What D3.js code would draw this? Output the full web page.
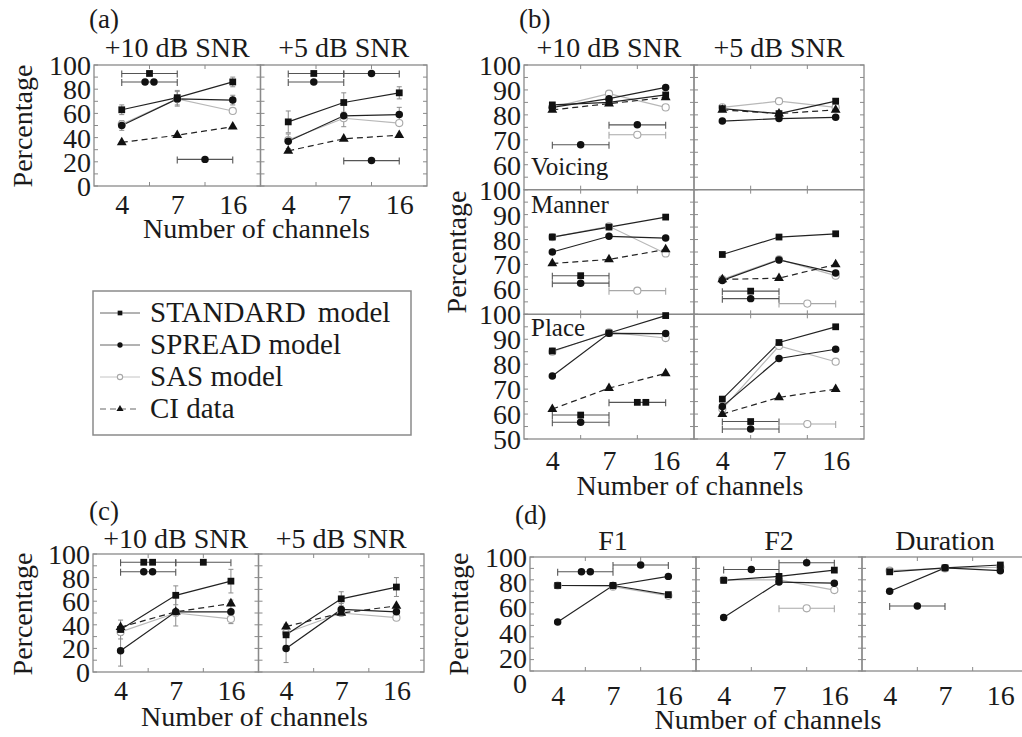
<!DOCTYPE html>
<html><head><meta charset="utf-8">
<script src="https://cdn.jsdelivr.net/npm/d3@7"></script>
<style>
body{margin:0;background:#fff;}
svg{display:block;}
svg text{font-family:"Liberation Serif","Times New Roman",serif !important;}
</style></head><body>
<svg id="fig" width="1022" height="737"></svg>
<script>
const channels = ["4", "7", "16"];
const legendLabels = ["STANDARD model", "SPREAD model", "SAS model", "CI data"];

// (a) overall identification
const aStandard10 = [63, 73, 86];
const aSpread10   = [50, 72, 71];
const aSas10      = [51, 72, 62];
const aCi10       = [36, 42, 49];
const aStandard5  = [53, 69, 77];
const aSpread5    = [37, 58, 59];
const aSas5       = [38, 56, 52];
const aCi5        = [29, 39, 42];
const aErrStandard10 = [4, 6, 4];
const aErrSpread10   = [4, 6, 4];
const aErrStandard5  = [9, 8, 5];
const aErrSpread5    = [6, 9, 6];

// (b) feature transmission: voicing, manner, place
const vStandard10 = [84, 85, 88];
const vSpread10   = [83, 86.5, 91];
const vSas10      = [83, 88.5, 83];
const vCi10       = [82, 84.5, 87];
const vStandard5  = [82.5, 80.5, 85.5];
const vSpread5    = [77.5, 78.5, 79];
const vSas5       = [83, 85.5, 83];
const vCi5        = [82, 80.5, 82];
const mStandard10 = [81, 85, 89];
const mSpread10   = [75, 81.3, 80.6];
const mSas10      = [81, 85.3, 74.4];
const mCi10       = [70.4, 72, 76];
const mStandard5  = [74, 81, 82.3];
const mSpread5    = [63.6, 71.8, 66.6];
const mSas5       = [64, 72, 65.5];
const mCi5        = [64, 64.5, 70];
const pStandard10 = [85.3, 92.5, 99.5];
const pSpread10   = [75.3, 92.4, 92.3];
const pSas10      = [85, 92.8, 90.5];
const pCi10       = [62, 70.4, 76.3];
const pStandard5  = [66, 88.7, 95];
const pSpread5    = [63, 82.3, 86];
const pSas5       = [62, 87.3, 81];
const pCi5        = [60, 66.7, 70];

// (c) vowel identification
const cStandard10 = [36, 65, 77];
const cSpread10   = [18, 51, 51];
const cSas10      = [34, 50, 45];
const cCi10       = [38, 51, 58];
const cStandard5  = [31.5, 62, 72];
const cSpread5    = [20, 53, 51];
const cSas5       = [33, 50, 46];
const cCi5        = [38.5, 50, 56];
const cErrStandard10 = [8, 8, 10];
const cErrSpread10   = [13, 12, 10];
const cErrStandard5  = [9, 6, 8];
const cErrSpread5    = [12, 5, 6];

// (d) vowel features
const dStandardF1  = [75, 75, 67];
const dSpreadF1    = [43, 75, 83];
const dSasF1       = [75, 74, 66];
const dStandardF2  = [79.5, 83, 88.5];
const dSpreadF2    = [47, 78, 77];
const dSasF2       = [80, 80, 71];
const dStandardDur = [87, 90.5, 93];
const dSpreadDur   = [70, 90.5, 88];
const dSasDur      = [88, 90, 91];

// significance brackets between channel conditions
const aSig10 = [
  {from: "4", to: "7", value: 93, kind: "std", at: [0.5]},
  {from: "4", to: "7", value: 86, kind: "spr", at: [0.42, 0.58]},
  {from: "7", to: "16", value: 22, kind: "spr", at: [0.5]}
];
const aSig5 = [
  {from: "4", to: "7", value: 93, kind: "std", at: [0.46]},
  {from: "7", to: "16", value: 93, kind: "spr", at: [0.5]},
  {from: "4", to: "7", value: 86, kind: "spr", at: [0.46]},
  {from: "7", to: "16", value: 21, kind: "spr", at: [0.5]}
];
const vSig10 = [
  {from: "4", to: "7", value: 68, kind: "spr", at: [0.5]},
  {from: "7", to: "16", value: 76, kind: "spr", at: [0.5]},
  {from: "7", to: "16", value: 72, kind: "sas", at: [0.5]}
];
const mSig10 = [
  {from: "4", to: "7", value: 65.5, kind: "std", at: [0.5]},
  {from: "4", to: "7", value: 62.5, kind: "spr", at: [0.5]},
  {from: "7", to: "16", value: 59.5, kind: "sas", at: [0.5]}
];
const mSig5 = [
  {from: "4", to: "7", value: 59.3, kind: "std", at: [0.5]},
  {from: "4", to: "7", value: 56.3, kind: "spr", at: [0.5]},
  {from: "7", to: "16", value: 54.3, kind: "sas", at: [0.5]}
];
const pSig10 = [
  {from: "4", to: "7", value: 59.6, kind: "std", at: [0.5]},
  {from: "4", to: "7", value: 56.7, kind: "spr", at: [0.5]},
  {from: "7", to: "16", value: 64.7, kind: "std", at: [0.5, 0.65]}
];
const pSig5 = [
  {from: "4", to: "7", value: 57, kind: "std", at: [0.5]},
  {from: "4", to: "7", value: 54, kind: "spr", at: [0.5]},
  {from: "7", to: "16", value: 56, kind: "sas", at: [0.5]}
];
const cSig10 = [
  {from: "4", to: "7", value: 93, kind: "std", at: [0.42, 0.58]},
  {from: "7", to: "16", value: 93, kind: "std", at: [0.5]},
  {from: "4", to: "7", value: 85, kind: "spr", at: [0.42, 0.58]}
];
const dSigF1 = [
  {from: "4", to: "7", value: 87, kind: "spr", at: [0.43, 0.59]},
  {from: "7", to: "16", value: 93, kind: "spr", at: [0.5]}
];
const dSigF2 = [
  {from: "4", to: "7", value: 89, kind: "spr", at: [0.5]},
  {from: "7", to: "16", value: 95, kind: "spr", at: [0.5]},
  {from: "7", to: "16", value: 55, kind: "sas", at: [0.5]}
];
const dSigDur = [
  {from: "4", to: "7", value: 57, kind: "spr", at: [0.5]}
];

// ---------------------------------------------------------------------------
const FS = 28;
const SERIF = "'Liberation Serif', 'Times New Roman', serif";
const frameColor = "#8a8a8a";
const svg = d3.select("#fig");

const style = {
  std: {stroke: "#222", dash: null, symbol: d3.symbolSquare, size: 46, fill: "#111", edge: "none"},
  spr: {stroke: "#222", dash: null, symbol: d3.symbolCircle, size: 44, fill: "#111", edge: "none"},
  sas: {stroke: "#b8b8b8", dash: null, symbol: d3.symbolCircle, size: 40, fill: "#fff", edge: "#a8a8a8"},
  ci:  {stroke: "#222", dash: "6,4", symbol: d3.symbolTriangle, size: 42, fill: "#111", edge: "none"}
};

function drawMarker(g, kind, cx, cy, size) {
  const s = style[kind];
  g.append("path")
    .attr("d", d3.symbol(s.symbol, size || s.size)())
    .attr("transform", `translate(${cx},${cy})`)
    .attr("fill", s.fill)
    .attr("stroke", s.edge)
    .attr("stroke-width", 1.1);
}

function text(g, str, x, y, opts = {}) {
  const t = g.append("text").attr("x", x).attr("y", y).text(str)
    .style("font-family", SERIF)
    .attr("font-size", opts.size || FS)
    .attr("fill", "#1a1a1a")
    .attr("text-anchor", opts.anchor || "start");
  if (opts.rotate) t.attr("transform", `rotate(-90,${x},${y})`);
  return t;
}

// one framed cell: three channel conditions on x, percentage on y
function cell(o) {
  const g = svg.append("g");
  const x = d3.scalePoint().domain(channels).range([o.x0, o.x1]).padding(0.5);
  const y = d3.scaleLinear().domain(o.domain).range([o.y1, o.y0]);

  g.append("rect")
    .attr("x", o.x0).attr("y", o.y0)
    .attr("width", o.x1 - o.x0).attr("height", o.y1 - o.y0)
    .attr("fill", "none").attr("stroke", frameColor).attr("stroke-width", 1.3);

  // inward ticks
  const tickVals = d3.range(o.domain[0], o.domain[1] + 1e-6, o.tickStep);
  tickVals.forEach(v => {
    g.append("line").attr("x1", o.x0).attr("x2", o.x0 + 4).attr("y1", y(v)).attr("y2", y(v))
      .attr("stroke", frameColor).attr("stroke-width", 1);
    g.append("line").attr("x1", o.x1 - 4).attr("x2", o.x1).attr("y1", y(v)).attr("y2", y(v))
      .attr("stroke", frameColor).attr("stroke-width", 1);
  });
  const mids = [(x("4") + x("7")) / 2, (x("7") + x("16")) / 2];
  mids.forEach(m => {
    g.append("line").attr("x1", m).attr("x2", m).attr("y1", o.y1).attr("y2", o.y1 - 4)
      .attr("stroke", frameColor).attr("stroke-width", 1);
    g.append("line").attr("x1", m).attr("x2", m).attr("y1", o.y0).attr("y2", o.y0 + 4)
      .attr("stroke", frameColor).attr("stroke-width", 1);
  });

  // error bars
  (o.errors || []).forEach(([vals, errs]) => {
    vals.forEach((v, i) => {
      const cx = x(channels[i]);
      const e = errs[i];
      g.append("line").attr("x1", cx).attr("x2", cx).attr("y1", y(v - e)).attr("y2", y(v + e))
        .attr("stroke", "#8c8c8c").attr("stroke-width", 1);
      [v - e, v + e].forEach(w => g.append("line")
        .attr("x1", cx - 2.5).attr("x2", cx + 2.5).attr("y1", y(w)).attr("y2", y(w))
        .attr("stroke", "#8c8c8c").attr("stroke-width", 1));
    });
  });

  // series lines
  const line = d3.line().x((d, i) => x(channels[i])).y(d => y(d));
  const order = ["sas", "ci", "spr", "std"];
  order.forEach(k => {
    if (!o.series[k]) return;
    g.append("path").attr("d", line(o.series[k]))
      .attr("fill", "none").attr("stroke", style[k].stroke).attr("stroke-width", 1.2)
      .attr("stroke-dasharray", style[k].dash);
  });

  // significance brackets
  (o.sig || []).forEach(b => {
    const xa = x(b.from), xb = x(b.to), yy = y(b.value);
    const col = b.kind === "sas" ? "#a8a8a8" : "#555";
    g.append("line").attr("x1", xa).attr("x2", xb).attr("y1", yy).attr("y2", yy)
      .attr("stroke", col).attr("stroke-width", 1.1);
    [xa, xb].forEach(xe => g.append("line").attr("x1", xe).attr("x2", xe)
      .attr("y1", yy - 3).attr("y2", yy + 4).attr("stroke", col).attr("stroke-width", 1.1));
    b.at.forEach(t => drawMarker(g, b.kind, xa + t * (xb - xa), yy));
  });

  // markers
  order.forEach(k => {
    if (!o.series[k]) return;
    o.series[k].forEach((v, i) => drawMarker(g, k, x(channels[i]), y(v)));
  });

  // y labels
  if (o.yLabels) {
    const ly = o.labelScale || y;
    const ax = d3.axisLeft(ly).tickValues(o.yLabels).tickSize(0).tickPadding(0).tickFormat(d3.format("d"));
    const ga = svg.append("g").attr("transform", `translate(${o.x0 - 3},0)`).call(ax);
    ga.attr("font-family", SERIF).attr("font-size", FS);
    ga.select(".domain").remove();
    ga.selectAll("text").style("font-family", SERIF).attr("font-size", FS)
      .attr("fill", "#1a1a1a").attr("dy", "0.34em");
  }
  // x labels
  if (o.xBaseline) {
    const ax = d3.axisBottom(x).tickSize(0);
    const ga = svg.append("g").attr("transform", `translate(0,${o.y1})`).call(ax);
    ga.attr("font-family", SERIF).attr("font-size", FS);
    ga.select(".domain").remove();
    ga.selectAll("text").style("font-family", SERIF).attr("font-size", FS)
      .attr("fill", "#1a1a1a").attr("y", o.xBaseline - o.y1).attr("dy", 0);
  }
  return {x, y};
}

// ---------------- panel (a)
{
  const x0 = 94, x1 = 427, xm = (x0 + x1) / 2, y0 = 65, y1 = 186;
  cell({x0, x1: xm, y0, y1, domain: [0, 100], tickStep: 10,
    series: {std: aStandard10, spr: aSpread10, sas: aSas10, ci: aCi10},
    errors: [[aStandard10, aErrStandard10], [aSpread10, aErrSpread10]],
    sig: aSig10, yLabels: [0, 20, 40, 60, 80, 100], xBaseline: 214});
  cell({x0: xm, x1, y0, y1, domain: [0, 100], tickStep: 10,
    series: {std: aStandard5, spr: aSpread5, sas: aSas5, ci: aCi5},
    errors: [[aStandard5, aErrStandard5], [aSpread5, aErrSpread5]],
    sig: aSig5, xBaseline: 214});
  text(svg, "(a)", 89, 28, {size: 27});
  text(svg, "+10 dB SNR", (x0 + xm) / 2, 57, {anchor: "middle"});
  text(svg, "+5 dB SNR", (xm + x1) / 2, 57, {anchor: "middle"});
  text(svg, "Number of channels", (x0 + x1) / 2 - 4, 238, {anchor: "middle"});
  text(svg, "Percentage", 32, 126, {anchor: "middle", rotate: true});
}

// ---------------- legend
{
  const g = svg.append("g");
  g.append("rect").attr("x", 93).attr("y", 291).attr("width", 318).attr("height", 144)
    .attr("fill", "none").attr("stroke", "#8a8a8a").attr("stroke-width", 1.5);
  const kinds = ["std", "spr", "sas", "ci"];
  const ly = d3.scalePoint().domain(legendLabels).range([313, 409]);
  legendLabels.forEach((lab, i) => {
    const k = kinds[i], yy = ly(lab);
    g.append("line").attr("x1", 100).attr("x2", 140).attr("y1", yy).attr("y2", yy)
      .attr("stroke", k === "sas" ? "#c4c4c4" : "#666").attr("stroke-width", 1)
      .attr("stroke-dasharray", style[k].dash);
    drawMarker(g, k, 120, yy, 22);
    text(g, lab, 150, yy + 9, {size: 29}).attr("word-spacing", i === 0 ? 5 : 0);
  });
}

// ---------------- panel (b)
{
  const x0 = 524, x1 = 864, xm = (x0 + x1) / 2, top = 65, bottom = 439;
  const h = (bottom - top) / 3;
  const rows = [
    {s10: {std: vStandard10, spr: vSpread10, sas: vSas10, ci: vCi10},
     s5: {std: vStandard5, spr: vSpread5, sas: vSas5, ci: vCi5}, g10: vSig10, g5: [],
     labels: [60, 70, 80, 90, 100]},
    {s10: {std: mStandard10, spr: mSpread10, sas: mSas10, ci: mCi10},
     s5: {std: mStandard5, spr: mSpread5, sas: mSas5, ci: mCi5}, g10: mSig10, g5: mSig5,
     labels: [60, 70, 80, 90, 100]},
    {s10: {std: pStandard10, spr: pSpread10, sas: pSas10, ci: pCi10},
     s5: {std: pStandard5, spr: pSpread5, sas: pSas5, ci: pCi5}, g10: pSig10, g5: pSig5,
     labels: [50, 60, 70, 80, 90, 100]}
  ];
  rows.forEach((r, i) => {
    const y0 = top + i * h, y1 = top + (i + 1) * h;
    const last = i === 2;
    cell({x0, x1: xm, y0, y1, domain: [50, 100], tickStep: 5, series: r.s10, sig: r.g10,
      yLabels: r.labels, xBaseline: last ? 470 : null});
    cell({x0: xm, x1, y0, y1, domain: [50, 100], tickStep: 5, series: r.s5, sig: r.g5,
      xBaseline: last ? 470 : null});
  });
  text(svg, "Voicing", 531, top + h - 15, {size: 25});
  text(svg, "Manner", 531, top + h + 23, {size: 25});
  text(svg, "Place", 531, top + 2 * h + 22, {size: 25});
  text(svg, "(b)", 519, 28, {size: 27});
  text(svg, "+10 dB SNR", (x0 + xm) / 2, 57, {anchor: "middle"});
  text(svg, "+5 dB SNR", (xm + x1) / 2, 57, {anchor: "middle"});
  text(svg, "Number of channels", (x0 + x1) / 2 - 4, 495, {anchor: "middle"});
  text(svg, "Percentage", 466, 252, {anchor: "middle", rotate: true});
}

// ---------------- panel (c)
{
  const x0 = 93, x1 = 424, xm = (x0 + x1) / 2, y0 = 554, y1 = 672;
  cell({x0, x1: xm, y0, y1, domain: [0, 100], tickStep: 10,
    series: {std: cStandard10, spr: cSpread10, sas: cSas10, ci: cCi10},
    errors: [[cStandard10, cErrStandard10], [cSpread10, cErrSpread10]],
    sig: cSig10, yLabels: [0, 20, 40, 60, 80, 100], xBaseline: 700});
  cell({x0: xm, x1, y0, y1, domain: [0, 100], tickStep: 10,
    series: {std: cStandard5, spr: cSpread5, sas: cSas5, ci: cCi5},
    errors: [[cStandard5, cErrStandard5], [cSpread5, cErrSpread5]],
    xBaseline: 700});
  text(svg, "(c)", 89, 520, {size: 27});
  text(svg, "+10 dB SNR", (x0 + xm) / 2, 548, {anchor: "middle"});
  text(svg, "+5 dB SNR", (xm + x1) / 2, 548, {anchor: "middle"});
  text(svg, "Number of channels", (x0 + x1) / 2 - 4, 726, {anchor: "middle"});
  text(svg, "Percentage", 32, 614, {anchor: "middle", rotate: true});
}

// ---------------- panel (d)
{
  const y0 = 557, y1 = 671, w = 166, x0 = 530;
  const labelScale = d3.scaleLinear().domain([0, 100]).range([683, 557]);
  const cols = [
    {title: "F1", series: {std: dStandardF1, spr: dSpreadF1, sas: dSasF1}, sig: dSigF1},
    {title: "F2", series: {std: dStandardF2, spr: dSpreadF2, sas: dSasF2}, sig: dSigF2},
    {title: "Duration", series: {std: dStandardDur, spr: dSpreadDur, sas: dSasDur}, sig: dSigDur}
  ];
  cols.forEach((c, i) => {
    const a = x0 + i * w, b = a + w;
    cell({x0: a, x1: b, y0, y1, domain: [0, 100], tickStep: 10, series: c.series, sig: c.sig,
      yLabels: i === 0 ? [0, 20, 40, 60, 80, 100] : null, labelScale, xBaseline: 705});
    text(svg, c.title, (a + b) / 2, 550, {anchor: "middle"});
  });
  text(svg, "(d)", 515, 524, {size: 27});
  text(svg, "Number of channels", 768, 729, {anchor: "middle"});
  text(svg, "Percentage", 468, 614, {anchor: "middle", rotate: true});
}
</script>
</body></html>
